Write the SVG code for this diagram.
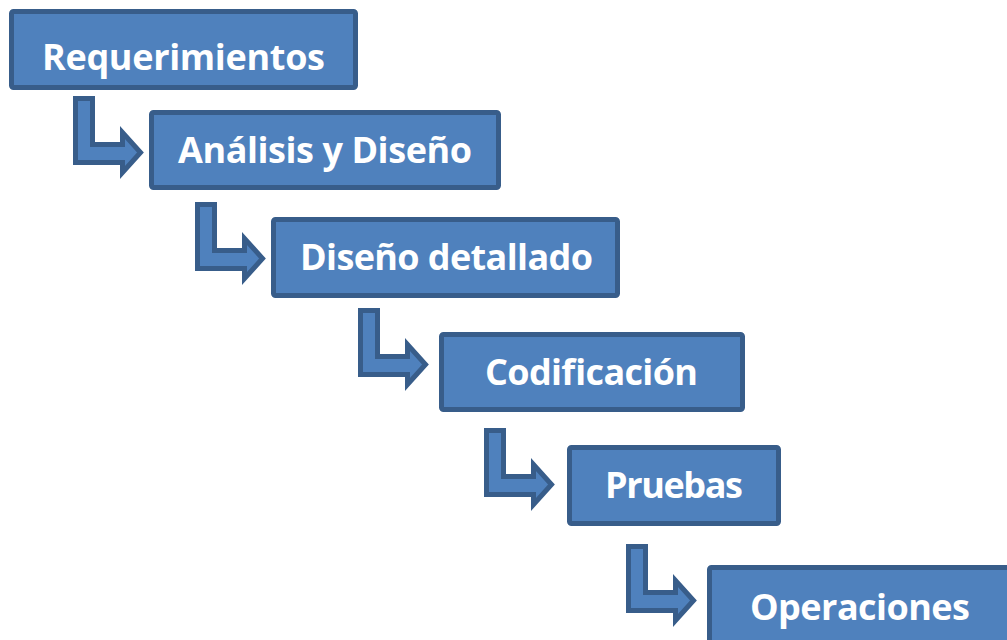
<svg xmlns="http://www.w3.org/2000/svg" xmlns:xlink="http://www.w3.org/1999/xlink" width="1007" height="640" viewBox="0 0 1007 640">
<style>
.box{fill:#4F81BD;stroke:#385D8A;stroke-width:5}
.lbl{fill:#FFFFFF;font-family:"Open Sans","Liberation Sans",sans-serif;font-weight:bold;font-size:36px}
.arr{fill:#4F81BD;stroke:#385D8A;stroke-width:5;stroke-linejoin:miter}
</style>
<defs>
<path id="bent" d="M2.5,2.5 H19.5 V48.5 H49.5 V36.5 L67.5,56.5 L49.5,76.5 V66.5 H2.5 Z"/>
</defs>
<rect width="1007" height="640" fill="#FFFFFF"/>
<g id="connectors">
<use xlink:href="#bent" href="#bent" class="arr" transform="translate(73,96)"/>
<use xlink:href="#bent" href="#bent" class="arr" transform="translate(195,202)"/>
<use xlink:href="#bent" href="#bent" class="arr" transform="translate(358,308)"/>
<use xlink:href="#bent" href="#bent" class="arr" transform="translate(484,428)"/>
<use xlink:href="#bent" href="#bent" class="arr" transform="translate(626,544)"/>
</g>
<g id="requerimientos">
<rect class="box" x="11.5" y="11.5" width="344" height="76" rx="2"/>
<text class="lbl" x="42" y="70" textLength="283" lengthAdjust="spacing">Requerimientos</text>
</g>
<g id="analisis">
<rect class="box" x="151.5" y="112.5" width="347" height="75" rx="2"/>
<text class="lbl" x="178" y="163" textLength="294" lengthAdjust="spacing">Análisis y Diseño</text>
</g>
<g id="diseno">
<rect class="box" x="273.5" y="219.5" width="344" height="76" rx="2"/>
<text class="lbl" x="300" y="270" textLength="293" lengthAdjust="spacing">Diseño detallado</text>
</g>
<g id="codificacion">
<rect class="box" x="441.5" y="334.5" width="301" height="75" rx="2"/>
<text class="lbl" x="485" y="385" textLength="213" lengthAdjust="spacing">Codificación</text>
</g>
<g id="pruebas">
<rect class="box" x="569.5" y="447.5" width="209" height="76" rx="2"/>
<text class="lbl" x="605" y="498" textLength="138" lengthAdjust="spacing">Pruebas</text>
</g>
<g id="operaciones">
<rect class="box" x="709.5" y="567.5" width="320" height="80" rx="2"/>
<text class="lbl" x="750" y="620" textLength="220" lengthAdjust="spacing">Operaciones</text>
</g>
</svg>
